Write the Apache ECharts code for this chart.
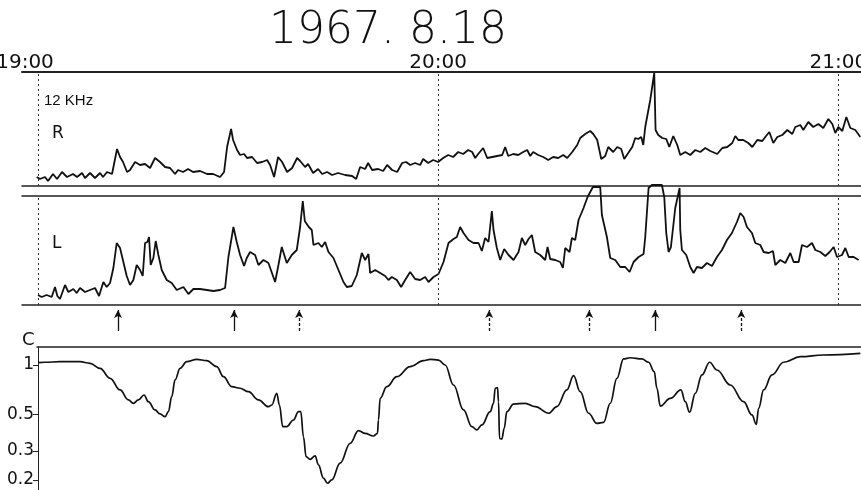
<!DOCTYPE html>
<html><head><meta charset="utf-8">
<script src="https://cdn.jsdelivr.net/npm/echarts@6/dist/echarts.min.js"></script>
<style>html,body{margin:0;padding:0;background:#fff}#c{width:861px;height:490px}</style>
</head><body><div id="c"></div>
<script>
// ---- data (time in minutes after 19:00) ----
const titleText = '1967. 8.18';
const timeTicks = [0, 60, 120];
const timeTickLabels = ['19:00', '20:00', '21:00'];
const freqLabel = '12 KHz';
// R trace: [minutes, relative intensity]
const rTrace = [[-0.2,9],[0.3,7],[1.05,9],[1.5,5],[2.25,12],[2.85,7],[3.6,14],[4.35,9],[5.25,12],[5.85,9],[6.6,13],[7.05,8],[7.8,13],[8.55,8],[9.3,13],[9.75,9],[10.35,14],[11.1,12],[11.85,37],[12.3,29],[12.75,24],[13.35,14],[13.8,16],[14.55,24],[15.3,21],[16.05,22],[16.8,18],[17.55,28],[18.3,24],[19.05,19],[19.8,18],[20.55,12],[21.0,16],[21.75,14],[22.5,17],[23.25,14],[24.3,15],[25.35,12],[26.25,12],[27.3,9],[27.9,14],[28.35,39],[28.95,57],[29.25,46],[29.85,36],[30.3,31],[30.9,32],[31.35,28],[32.1,29],[32.85,23],[33.6,24],[34.35,26],[34.8,21],[35.4,9],[36.0,29],[36.6,24],[37.35,14],[38.1,18],[38.85,28],[39.3,25],[40.05,19],[40.5,22],[41.25,13],[42.0,17],[42.6,12],[43.35,14],[44.1,11],[45.0,13],[46.05,11],[47.1,10],[47.7,7],[48.3,19],[49.05,17],[49.5,23],[50.1,16],[51.0,17],[51.75,15],[52.35,21],[53.1,16],[53.85,14],[54.6,23],[55.2,24],[55.8,21],[56.55,23],[57.3,21],[57.75,27],[58.5,23],[59.25,26],[60.0,24],[60.75,28],[61.5,31],[62.25,29],[63.0,34],[63.75,32],[64.5,36],[65.1,34],[65.55,28],[66.0,32],[66.75,38],[67.35,28],[68.1,29],[68.85,30],[69.6,31],[70.05,39],[70.5,30],[71.25,32],[72.0,31],[72.75,34],[73.35,36],[73.8,30],[74.25,34],[75.0,31],[75.75,29],[76.5,26],[77.25,29],[78.0,28],[78.75,31],[79.35,28],[80.1,34],[80.85,41],[81.3,48],[82.05,52],[82.8,55],[83.25,52],[83.85,46],[84.45,27],[85.05,30],[85.5,39],[86.25,34],[86.85,39],[87.45,37],[87.9,27],[88.5,33],[89.1,39],[89.55,48],[90.0,47],[90.45,49],[90.75,41],[91.05,59],[91.8,86],[92.4,113],[92.55,113],[92.6,56],[93.0,51],[93.6,48],[94.2,47],[94.65,39],[95.25,50],[95.85,41],[96.3,31],[97.05,34],[97.8,31],[98.55,36],[99.3,34],[100.05,38],[100.8,35],[101.85,32],[102.6,38],[103.35,39],[104.1,43],[104.55,50],[105.0,46],[105.75,46],[106.5,43],[107.1,39],[107.85,46],[108.6,45],[109.05,49],[109.65,54],[110.25,43],[110.85,49],[111.6,51],[112.35,56],[113.1,52],[113.55,59],[114.3,61],[114.75,56],[115.5,64],[116.25,59],[117.0,62],[117.75,58],[118.5,67],[119.1,62],[119.55,53],[120.0,59],[120.6,55],[121.2,69],[121.8,58],[122.55,56],[123.3,49]];
// L trace: [minutes, relative intensity]
const lTrace = [[0.0,10],[0.55,8],[1.3,10],[2.05,8],[2.55,18],[2.9,9],[3.3,6],[4.05,20],[4.55,13],[5.3,16],[5.8,12],[6.3,17],[7.05,13],[7.8,15],[8.55,17],[9.15,9],[9.8,23],[10.3,18],[10.8,22],[11.3,37],[11.8,62],[12.3,57],[12.8,43],[13.3,29],[13.8,20],[14.3,25],[14.8,40],[15.3,35],[15.7,29],[16.05,62],[16.4,63],[16.65,68],[16.9,40],[17.3,47],[17.65,64],[18.05,50],[18.55,35],[19.3,25],[20.05,22],[20.8,15],[21.8,18],[22.55,11],[23.3,16],[24.3,16],[25.3,15],[26.3,14],[27.3,15],[28.05,17],[28.55,48],[29.3,78],[29.8,63],[30.3,50],[30.9,39],[31.3,47],[31.8,53],[32.55,50],[33.05,40],[33.8,45],[34.55,42],[35.55,23],[36.05,40],[36.55,58],[37.3,42],[38.05,50],[38.8,55],[39.3,78],[39.7,104],[40.0,84],[40.6,78],[41.05,75],[41.3,60],[42.05,62],[42.55,58],[43.05,63],[43.55,53],[44.3,47],[45.05,35],[45.8,23],[46.3,18],[47.05,19],[47.8,30],[48.55,52],[49.05,45],[49.55,51],[49.8,32],[50.55,35],[51.3,32],[52.05,29],[52.55,25],[53.05,28],[53.8,25],[54.45,18],[55.05,25],[55.8,33],[56.55,26],[57.3,25],[58.05,28],[58.55,23],[59.3,28],[60.05,31],[60.8,43],[61.55,62],[62.3,66],[62.8,68],[63.3,78],[63.8,72],[64.55,65],[65.3,62],[66.05,62],[66.55,54],[67.05,67],[67.55,63],[68.05,94],[68.3,75],[68.8,57],[69.3,45],[69.9,56],[70.55,50],[71.3,45],[72.05,53],[72.55,67],[73.05,60],[73.55,66],[74.05,70],[74.55,53],[75.3,50],[76.05,45],[76.4,58],[76.8,46],[77.55,45],[78.3,43],[78.7,37],[79.05,57],[79.7,53],[80.05,67],[80.55,65],[81.05,85],[81.8,97],[82.4,108],[82.8,113],[83.2,118],[84.3,118],[84.55,90],[85.3,68],[85.8,47],[86.55,45],[87.3,38],[88.05,38],[88.7,33],[89.3,43],[90.05,48],[90.8,51],[91.05,68],[91.55,117],[92.05,120],[93.55,120],[93.9,108],[94.2,72],[94.55,53],[94.9,58],[95.55,97],[96.2,117],[96.3,75],[96.55,55],[97.2,50],[97.8,38],[98.3,32],[98.8,38],[99.55,37],[100.3,42],[101.05,39],[101.8,48],[102.55,55],[103.3,65],[104.05,72],[104.8,83],[105.3,92],[105.8,88],[106.3,78],[107.05,72],[107.55,62],[108.3,60],[108.8,53],[109.55,52],[110.2,54],[110.55,40],[111.3,45],[112.05,42],[112.8,52],[113.3,43],[114.05,43],[114.55,60],[115.3,58],[116.05,62],[116.55,55],[117.3,53],[118.05,49],[118.7,53],[119.3,58],[119.8,48],[120.55,50],[121.05,57],[121.55,48],[122.3,48],[123.05,45]];
// C: minutes and ratio values
const cTimes = [0.05,1.05,3.3,6.3,7.8,9.3,10.8,12.3,13.55,14.3,15.05,15.9,16.55,17.55,18.3,19.05,19.55,20.05,20.55,21.3,22.3,23.8,25.3,26.8,27.8,29.05,30.3,31.55,33.05,34.55,35.05,35.8,36.2,36.7,37.3,38.3,39.05,39.4,39.8,40.2,40.8,41.55,42.05,42.8,43.4,44.05,45.3,46.8,48.05,49.05,50.3,50.9,51.05,51.3,52.3,53.8,55.8,57.8,58.8,60.05,61.05,62.3,63.8,65.05,65.8,66.55,67.8,68.3,68.55,68.9,69.05,69.2,69.55,69.9,70.3,71.3,73.05,74.55,76.55,77.8,79.3,80.3,81.3,82.55,83.8,84.8,85.8,86.8,87.8,88.8,90.55,91.55,92.4,92.8,93.3,94.8,96.4,97.05,97.7,98.55,99.55,100.7,101.8,103.8,105.8,107.05,107.7,108.05,108.8,110.05,111.8,114.3,117.8,123.3];
const cValues = [1.033,1.039,1.047,1.047,1.024,0.955,0.830,0.705,0.613,0.585,0.613,0.657,0.598,0.533,0.504,0.485,0.520,0.642,0.811,0.955,1.047,1.083,1.062,0.977,0.849,0.738,0.722,0.688,0.613,0.558,0.571,0.673,0.571,0.422,0.422,0.463,0.520,0.520,0.366,0.277,0.267,0.280,0.247,0.205,0.191,0.200,0.253,0.334,0.399,0.384,0.370,0.384,0.463,0.627,0.738,0.849,0.977,1.062,1.083,1.072,1.000,0.756,0.533,0.422,0.403,0.432,0.520,0.585,0.722,0.728,0.598,0.358,0.355,0.412,0.520,0.579,0.585,0.558,0.509,0.558,0.705,0.861,0.688,0.509,0.442,0.448,0.585,0.830,1.088,1.107,1.088,1.039,0.911,0.722,0.563,0.627,0.705,0.598,0.516,0.673,0.870,1.039,0.932,0.756,0.598,0.497,0.436,0.545,0.705,0.870,1.039,1.123,1.150,1.178];
const cTicks = [1, 0.5, 0.3, 0.2];
const cTickLabels = ['1', '0.5', '0.3', '0.2'];
// event arrows
const arrowTimes = [12.0, 29.4, 39.15, 67.65, 82.65, 92.55, 105.45];
const arrowDashed = [false, false, true, true, true, false, true];

// ---- chart ----
const INK = '#111';
const XMIN = -2.4, XMAX = 123.4;
const chart = echarts.init(document.getElementById('c'), null, {renderer: 'canvas'});
const dashLines = {
  silent: true, symbol: 'none', label: {show: false},
  lineStyle: {color: '#333', type: [2, 3], width: 1},
  data: timeTicks.map(t => ({xAxis: t}))
};
const hiddenX = (grid) => ({type: 'value', gridIndex: grid, min: XMIN, max: XMAX,
  axisLine: {show: false}, axisTick: {show: false}, axisLabel: {show: false}, splitLine: {show: false}});
const borderX = (grid, pos, w) => ({type: 'value', gridIndex: grid, position: pos, min: XMIN, max: XMAX,
  axisLine: {show: true, onZero: false, lineStyle: {color: '#222', width: w}},
  axisTick: {show: false}, axisLabel: {show: false}, splitLine: {show: false}});
const hiddenY = (grid, min, max) => ({type: 'value', gridIndex: grid, min, max, show: false, splitLine: {show: false}});

const timeTop = borderX(0, 'top', 2);
timeTop.axisLabel = {
  show: true, customValues: timeTicks, margin: -1,
  fontFamily: 'DejaVu Sans', fontSize: 20, color: INK,
  formatter: v => {
    const i = timeTicks.indexOf(v);
    return i === 0 ? '{a|' + timeTickLabels[i] + '}' : timeTickLabels[i];
  },
  rich: {a: {fontFamily: 'DejaVu Sans', fontSize: 20, color: INK, padding: [0, 26, 0, 0]}}
};

const cLog = cTimes.map((t, i) => [t, Math.log10(cValues[i])]);
const gridBase = {outerBoundsMode: 'none', containLabel: false};

chart.setOption({
  animation: false,
  backgroundColor: '#fff',
  grid: [
    Object.assign({left: 22, right: 0, top: 72, height: 114}, gridBase),
    Object.assign({left: 22, right: 0, top: 196, height: 109}, gridBase),
    Object.assign({left: 37, right: 0, top: 347, height: 143}, gridBase),
    Object.assign({left: 22, right: 0, top: 310, height: 21}, gridBase)
  ],
  xAxis: [
    borderX(0, 'bottom', 1.5), timeTop,
    borderX(1, 'bottom', 1.5), borderX(1, 'top', 1.5),
    Object.assign(borderX(2, 'top', 1.5), {min: -0.15}),
    hiddenX(3)
  ],
  yAxis: [
    hiddenY(0, 0, 114),
    hiddenY(1, 0, 109),
    {type: 'value', gridIndex: 2, min: -0.76, max: 0.1094,
      axisLine: {show: true, lineStyle: {color: '#222', width: 1}},
      axisTick: {show: true, length: 5, lineStyle: {color: '#222'}, customValues: cTicks.map(v => Math.log10(v))},
      axisLabel: {show: true, margin: 3, fontFamily: 'DejaVu Sans', fontSize: 17, color: INK,
        customValues: cTicks.map(v => Math.log10(v)),
        formatter: v => {
          let best = 0;
          cTicks.forEach((c, i) => { if (Math.abs(Math.log10(c) - v) < Math.abs(Math.log10(cTicks[best]) - v)) best = i; });
          return cTickLabels[best];
        }},
      splitLine: {show: false}},
    hiddenY(3, 0, 1)
  ],
  graphic: [
    {type: 'text', style: {text: titleText, x: 388, y: 32, textAlign: 'center', textVerticalAlign: 'middle',
      fontFamily: 'DejaVu Sans', fontWeight: 200, fontSize: 44, fill: INK}},
    {type: 'text', style: {text: freqLabel, x: 44, y: 101, textVerticalAlign: 'middle', fontFamily: 'Liberation Sans', fontSize: 15, fill: INK}},
    {type: 'text', style: {text: 'R', x: 52, y: 134, textVerticalAlign: 'middle', fontFamily: 'DejaVu Sans', fontSize: 17, fill: INK}},
    {type: 'text', style: {text: 'L', x: 52, y: 244, textVerticalAlign: 'middle', fontFamily: 'DejaVu Sans', fontSize: 17, fill: INK}},
    {type: 'text', style: {text: 'C', x: 22, y: 340, textVerticalAlign: 'middle', fontFamily: 'DejaVu Sans', fontSize: 18, fill: INK}}
  ],
  series: [
    {type: 'line', xAxisIndex: 0, yAxisIndex: 0, data: rTrace, showSymbol: false, clip: false,
      lineStyle: {color: INK, width: 1.8}, markLine: dashLines},
    {type: 'line', xAxisIndex: 2, yAxisIndex: 1, data: lTrace, showSymbol: false, clip: false,
      lineStyle: {color: INK, width: 1.8}, markLine: dashLines},
    {type: 'line', xAxisIndex: 4, yAxisIndex: 2, data: cLog, showSymbol: false, clip: false,
      smooth: 0.4, smoothMonotone: 'x', lineStyle: {color: INK, width: 1.7}},
    {type: 'line', xAxisIndex: 5, yAxisIndex: 3, data: [], showSymbol: false,
      markLine: {silent: true, symbol: ['none', 'arrow'], symbolSize: [6, 8], label: {show: false},
        data: arrowTimes.map((t, i) => [
          {coord: [t, 0], lineStyle: {color: INK, width: 1.3, type: arrowDashed[i] ? [3, 2] : 'solid'}},
          {coord: [t, 1]}
        ])}}
  ]
});
</script></body></html>
